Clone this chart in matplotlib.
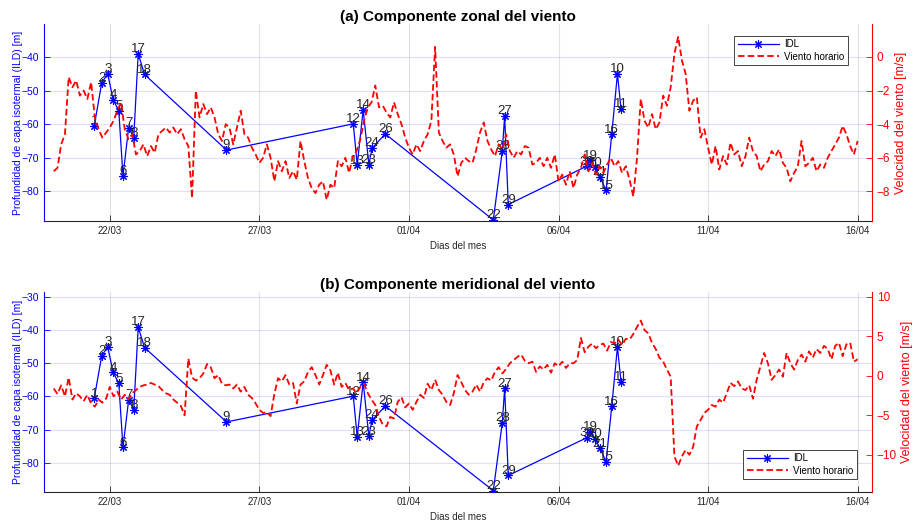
import matplotlib
matplotlib.use("Agg")
import matplotlib.pyplot as plt
from matplotlib.lines import Line2D
import numpy as np

plt.rcParams['font.family'] = ['Liberation Sans', 'DejaVu Sans']

# ---------------- data ----------------
# time axis: days relative to 22/03 00:00
tick_days = [0, 5, 10, 15, 20, 25]
tick_labels = ['22/03', '27/03', '01/04', '06/04', '11/04', '16/04']

# IDL points (in plotting / time order)
idl_label = [1, 2, 3, 4, 5, 6, 7, 8, 17, 18, 9, 12, 13, 14, 23, 24, 26, 22,
             28, 27, 29, 30, 19, 20, 21, 15, 16, 10, 11]
idl_day = [-0.52, -0.27, -0.07, 0.11, 0.30, 0.44, 0.63, 0.80, 0.95, 1.16,
           3.90, 8.14, 8.27, 8.47, 8.66, 8.77, 9.21, 12.82, 13.12, 13.20,
           13.32, 15.94, 16.05, 16.22, 16.39, 16.59, 16.78, 16.97, 17.09]
idl_depth = [-60.5, -47.7, -45.0, -52.7, -56.0, -75.4, -61.0, -64.0, -39.0,
             -45.2, -67.7, -59.9, -72.2, -55.7, -72.0, -67.1, -62.9, -88.5,
             -68.0, -57.5, -83.9, -72.5, -70.7, -72.8, -75.7, -79.7, -63.0,
             -45.0, -55.5]

# wind, 3-hourly, starting 20/03 03:00
wind_start = -1.875
wind_step = 0.125
wind_u = [
    -6.8, -6.6, -5.2, -4.6, -1.2, -1.8, -1.4,
    -2.3, -2.0, -2.5, -1.5, -3.6, -4.3, -4.8, -4.5,
    -4.2, -3.8, -3.2, -2.7, -4.3, -4.9, -4.6, -5.8,
    -5.6, -5.2, -5.9, -5.3, -5.7, -4.6, -4.4, -4.2,
    -4.5, -4.2, -4.6, -4.3, -4.9, -5.3, -8.4, -2.0,
    -3.6, -2.8, -3.4, -3.0, -3.6, -4.6, -5.0, -4.0,
    -4.2, -5.2, -4.2, -3.2, -4.6, -4.8, -5.4, -5.8,
    -6.3, -6.0, -5.2, -6.0, -7.4, -6.2, -6.8, -6.2,
    -7.2, -6.8, -7.3, -5.0, -6.2, -7.2, -7.8, -8.1,
    -7.6, -7.4, -8.5, -7.6, -7.8, -6.2, -6.5, -6.0,
    -6.9, -5.9, -5.6, -4.9, -3.8, -3.0, -2.7, -1.7,
    -3.0, -2.9, -3.3, -3.6, -2.7, -3.4, -4.0, -4.8,
    -5.4, -5.8, -5.2, -5.6, -5.0, -4.6, -3.8, 0.6,
    -4.5, -5.0, -5.4, -5.2, -5.8, -7.1, -6.3, -6.0,
    -6.2, -6.3, -5.5, -4.5, -3.9, -5.0, -5.5, -5.9,
    -5.2, -5.5, -4.6, -5.6, -6.0, -5.6, -5.8, -5.3,
    -5.4, -6.4, -6.3, -6.0, -6.5, -6.0, -6.6, -5.8,
    -7.4, -7.0, -7.6, -6.8, -7.8, -7.0, -6.6, -5.8,
    -6.8, -6.3, -7.0, -6.5, -6.9, -6.4, -6.0, -6.5,
    -6.2, -6.9, -6.5, -7.3, -8.3, -6.0, -2.5, -3.8,
    -4.2, -3.4, -4.3, -3.9, -2.3, -2.9, -1.8, 0.2,
    1.2, -0.2, -1.0, -3.2, -2.6, -2.4, -4.8, -4.3,
    -5.4, -6.4, -5.3, -6.7, -5.9, -6.4, -5.1, -5.8,
    -5.6, -6.5, -5.9, -4.8, -5.6, -5.9, -6.8, -6.4,
    -6.2, -5.6, -5.9, -5.5, -6.3, -6.6, -7.4, -6.9,
    -6.5, -5.0, -6.5, -6.3, -6.0, -6.8, -6.4, -6.6,
    -6.0, -5.6, -5.2, -4.8, -4.1, -4.6, -5.3, -5.8,
    -5.0]
wind_v = [
    -1.6, -2.3, -1.2, -2.6, -0.2, -3.0, -2.2,
    -2.6, -3.2, -2.4, -3.5, -3.9, -3.0, -3.4, -2.9,
    -1.4, -2.6, -2.0, -3.0, -2.4, -3.0, -2.2, -1.8,
    -1.4, -1.2, -1.1, -0.9, -1.1, -1.3, -1.8, -2.2,
    -2.4, -3.0, -3.4, -3.8, -5.0, 2.2, -0.2, -0.6,
    -0.3, 0.3, 1.5, 1.1, -0.3, 0.1, -1.0, -1.2,
    -1.1, -1.6, -1.1, -2.0, -1.4, -2.4, -2.8, -3.5,
    -4.3, -4.7, -4.6, -5.1, -2.3, -0.3, -0.7, 0.1,
    -1.1, -0.9, -3.5, -1.1, -0.7, 0.5, 1.1, 0.1,
    -1.1, 0.1, 1.4, 0.7, -1.1, 0.4, -1.4, -0.9,
    -1.8, -1.6, -2.2, -1.4, -1.0, -2.2, -3.0, -3.7,
    -5.2, -6.2, -6.4, -5.2, -5.4, -3.3, -2.7, -4.0,
    -3.5, -4.3, -3.3, -2.4, -2.8, -1.0, -1.8, -0.5,
    -1.8, -2.4, -3.3, -3.7, -2.2, 0.1, -0.8, -1.8,
    -2.4, -2.0, -1.1, -2.0, -0.8, -0.3, -0.6, 0.5,
    1.1, 0.3, 0.9, 1.6, 2.0, 2.4, 2.7, 1.9,
    1.6, 1.8, 0.5, 1.2, 0.8, 1.4, 0.4, 1.6,
    1.2, 1.8, 1.0, 1.6, 1.6, 2.0, 4.8, 3.0,
    3.7, 4.1, 3.5, 3.9, 4.1, 3.2, 4.3, 4.1,
    4.6, 3.9, 4.7, 4.6, 5.3, 6.2, 7.0, 5.8,
    5.4, 4.2, 3.4, 2.3, 1.8, 0.8, -0.1, -10.2,
    -11.4, -10.2, -9.4, -10.0, -9.0, -6.4, -5.6, -4.7,
    -4.3, -3.7, -3.9, -3.0, -3.4, -2.2, -0.9, -1.3,
    -0.7, -1.6, -1.8, -1.2, -2.9, -0.5, 1.2, 2.9,
    1.6, -0.5, 0.1, 0.8, -0.1, 2.9, 1.6, 0.8,
    2.0, 2.7, 1.8, 3.1, 2.3, 3.4, 2.9, 3.8,
    3.4, 2.1, 3.8, 4.2, 2.5, 4.0, 4.2, 1.8,
    2.1]

titles = ['(a) Componente zonal del viento', '(b) Componente meridional del viento']
left_ticks = [[-80, -70, -60, -50, -40], [-80, -70, -60, -50, -40, -30]]
right_ticks = [[-8, -6, -4, -2, 0], [-10, -5, 0, 5, 10]]
left_lims = [(-88.8, -30.2), (-88.9, -28.4)]
right_lims = [(-9.76, 1.96), (-14.72, 10.63)]

# ---------------- figure ----------------
W, H = 918, 523
fig = plt.figure(figsize=(W / 100, H / 100), dpi=100)

wind_t = wind_start + wind_step * np.arange(len(wind_u))
winds = [wind_u, wind_v]
# axes rectangles in pixels: left, top, right, bottom
rects = [(44, 24, 872, 221), (44, 292, 872, 492)]
legend_anchor = [('upper right', (848 / W, 1 - 36 / H)),
                 ('lower right', (857 / W, 1 - 479 / H))]

dark = (0.15, 0.15, 0.15)
blue = (0, 0, 1)
red = (1, 0, 0)

for k in range(2):
    l, t, r, b = rects[k]
    ax = fig.add_axes([l / W, 1 - b / H, (r - l) / W, (b - t) / H])
    ax.set_xlim(-2.2, 25.48)
    ax.set_ylim(*left_lims[k])
    ax.plot(idl_day, idl_depth, color=blue, lw=0.9, marker=(8, 2, 0),
            ms=6, mew=0.8, zorder=3)
    for n, d, z in zip(idl_label, idl_day, idl_depth):
        ax.annotate(str(n), (d, z), xytext=(0, -1), textcoords='offset points',
                    ha='center', va='bottom', fontsize=9.5, color=dark, zorder=4)
    ax.set_xticks(tick_days)
    ax.set_xticklabels(tick_labels)
    ax.set_yticks(left_ticks[k])
    ax.grid(axis='y', color=blue, alpha=0.13, lw=0.8)
    ax.grid(axis='x', color=dark, alpha=0.13, lw=0.8)
    ax.set_axisbelow(True)
    ax.tick_params(axis='x', direction='in', length=4, labelsize=7,
                   colors=dark, width=0.6)
    ax.tick_params(axis='y', direction='in', length=4, labelsize=7.5,
                   colors=blue, width=0.6)
    ax.spines['top'].set_visible(False)
    ax.spines['right'].set_visible(False)
    ax.spines['left'].set_color(blue)
    ax.spines['bottom'].set_color(dark)
    ax.set_xlabel('Dias del mes', fontsize=7, color=dark, labelpad=4)
    ax.set_ylabel('Profundidad de capa isotermal (ILD) [m]', fontsize=7.5,
                  color=blue, labelpad=-1)
    ax.set_title(titles[k], fontsize=11, fontweight='bold', pad=1.5)

    ax2 = ax.twinx()
    ax2.set_ylim(*right_lims[k])
    ax2.plot(wind_t, winds[k], color=red, lw=1.3, ls=(0, (3.6, 1.8)))
    ax2.set_yticks(right_ticks[k])
    ax2.tick_params(axis='y', direction='in', length=4, labelsize=8.5,
                    colors=red, width=0.6)
    ax2.spines['top'].set_visible(False)
    ax2.spines['left'].set_visible(False)
    ax2.spines['bottom'].set_visible(False)
    ax2.spines['right'].set_color(red)
    ax2.set_ylabel('Velocidad del viento [m/s]', fontsize=9, color=red,
                   labelpad=3)

    handles = [Line2D([], [], color=blue, lw=0.9, marker=(8, 2, 0), ms=6, mew=0.8),
               Line2D([], [], color=red, lw=1.3, ls=(0, (3.6, 1.8)))]
    loc, anchor = legend_anchor[k]
    leg = ax2.legend(handles, ['IDL', 'Viento horario'], loc=loc,
                     bbox_to_anchor=anchor, bbox_transform=fig.transFigure,
                     borderaxespad=0, fontsize=7, fancybox=False,
                     framealpha=1, edgecolor=dark, handlelength=4.2,
                     borderpad=0.35, labelspacing=0.25, handletextpad=0.6)
    leg.get_frame().set_linewidth(0.6)

fig.savefig('out.png', dpi=100)
